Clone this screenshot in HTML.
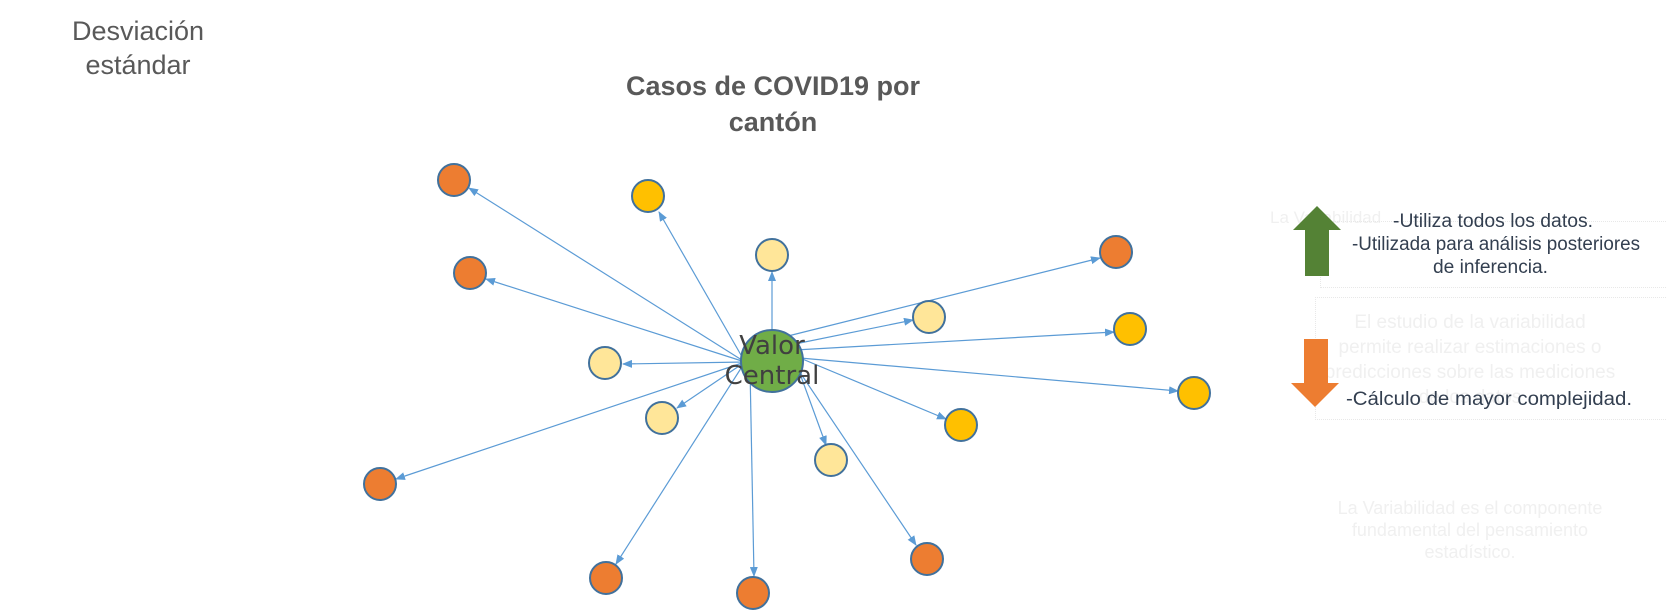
<!DOCTYPE html>
<html><head><meta charset="utf-8"><style>
body{margin:0;width:1666px;height:610px;background:#fff;overflow:hidden;position:relative;font-family:"Liberation Sans",sans-serif}
.t{position:absolute;white-space:nowrap}
</style></head><body>
<div class="t" style="left:53px;top:14px;width:170px;text-align:center;font-size:27px;line-height:34px;color:#595959">Desviación<br>estándar</div>
<div class="t" style="left:573px;top:68px;width:400px;text-align:center;font-size:27px;line-height:36px;font-weight:bold;color:#595959">Casos de COVID19 por<br>cantón</div>

<div class="t" style="left:1270px;top:208px;font-size:17px;color:#f0f0f0">La Variabilidad</div>
<div style="position:absolute;left:1320px;top:221px;width:346px;height:65px;border:1px dotted #e8e8e8"></div>
<div style="position:absolute;left:1315px;top:297px;width:351px;height:121px;border:1px dotted #e8e8e8"></div>
<div class="t" style="left:1270px;top:310px;width:400px;text-align:center;font-size:19px;line-height:25px;color:#f0f0f0">El estudio de la variabilidad<br>permite realizar estimaciones o<br>predicciones sobre las mediciones<br>de los datos</div>
<div class="t" style="left:1270px;top:497px;width:400px;text-align:center;font-size:18px;line-height:22px;color:#f0f0f0">La Variabilidad es el componente<br>fundamental del pensamiento<br>estadístico.</div>

<svg width="1666" height="610" style="position:absolute;left:0;top:0">
<defs><marker id="a" markerWidth="10" markerHeight="8" refX="9" refY="4" orient="auto" markerUnits="userSpaceOnUse"><path d="M0,0L10,4L0,8z" fill="#5b9bd5"/></marker></defs>
<g stroke="#5b9bd5" stroke-width="1.2" marker-end="url(#a)">
<line x1="745" y1="362" x2="469" y2="188"/>
<line x1="745" y1="362" x2="486" y2="279"/>
<line x1="745" y1="362" x2="396" y2="479"/>
<line x1="745" y1="362" x2="623" y2="364"/>
<line x1="745" y1="362" x2="677" y2="408"/>
<line x1="745" y1="362" x2="616" y2="564"/>
<line x1="750" y1="368" x2="754" y2="576"/>
<line x1="745" y1="362" x2="659" y2="212"/>
<line x1="772" y1="331" x2="772" y2="272"/>
<line x1="795" y1="365" x2="916" y2="545"/>
<line x1="795" y1="360" x2="826" y2="445"/>
<line x1="800" y1="358" x2="946" y2="419"/>
<line x1="800" y1="358" x2="1178" y2="391"/>
<line x1="795" y1="350" x2="1114" y2="332"/>
<line x1="790" y1="345" x2="913" y2="320"/>
<line x1="780" y1="338" x2="1100" y2="258"/>
</g>
<g stroke="#41719c" stroke-width="2">
<circle cx="772" cy="361" r="31" fill="#70ad47"/>
<circle cx="454" cy="180" r="16" fill="#ed7d31"/>
<circle cx="470" cy="273" r="16" fill="#ed7d31"/>
<circle cx="380" cy="484" r="16" fill="#ed7d31"/>
<circle cx="606" cy="578" r="16" fill="#ed7d31"/>
<circle cx="753" cy="593" r="16" fill="#ed7d31"/>
<circle cx="927" cy="559" r="16" fill="#ed7d31"/>
<circle cx="1116" cy="252" r="16" fill="#ed7d31"/>
<circle cx="648" cy="196" r="16" fill="#ffc000"/>
<circle cx="1130" cy="329" r="16" fill="#ffc000"/>
<circle cx="1194" cy="393" r="16" fill="#ffc000"/>
<circle cx="961" cy="425" r="16" fill="#ffc000"/>
<circle cx="772" cy="255" r="16" fill="#ffe699"/>
<circle cx="929" cy="317" r="16" fill="#ffe699"/>
<circle cx="605" cy="363" r="16" fill="#ffe699"/>
<circle cx="662" cy="418" r="16" fill="#ffe699"/>
<circle cx="831" cy="460" r="16" fill="#ffe699"/>
</g>
<text x="772" y="354" text-anchor="middle" font-family="DejaVu Sans,sans-serif" font-size="26" fill="#404040">Valor</text>
<text x="772" y="384" text-anchor="middle" font-family="DejaVu Sans,sans-serif" font-size="26" fill="#404040">Central</text>
<path d="M1305,276V230H1293L1317,206L1341,230H1329V276Z" fill="#548235"/>
<path d="M1304,339H1328V383H1339L1315,407L1291,383H1304Z" fill="#ed7d31"/>
<g font-family="Liberation Sans,sans-serif" font-size="19" fill="#333f50">
<text x="1393" y="227" textLength="200" lengthAdjust="spacingAndGlyphs">-Utiliza todos los datos.</text>
<text x="1352" y="250" textLength="288" lengthAdjust="spacingAndGlyphs">-Utilizada para análisis posteriores</text>
<text x="1433" y="273" textLength="115" lengthAdjust="spacingAndGlyphs">de inferencia.</text>
<text x="1346" y="405" textLength="286" lengthAdjust="spacingAndGlyphs">-Cálculo de mayor complejidad.</text>
</g>
</svg>
</body></html>
